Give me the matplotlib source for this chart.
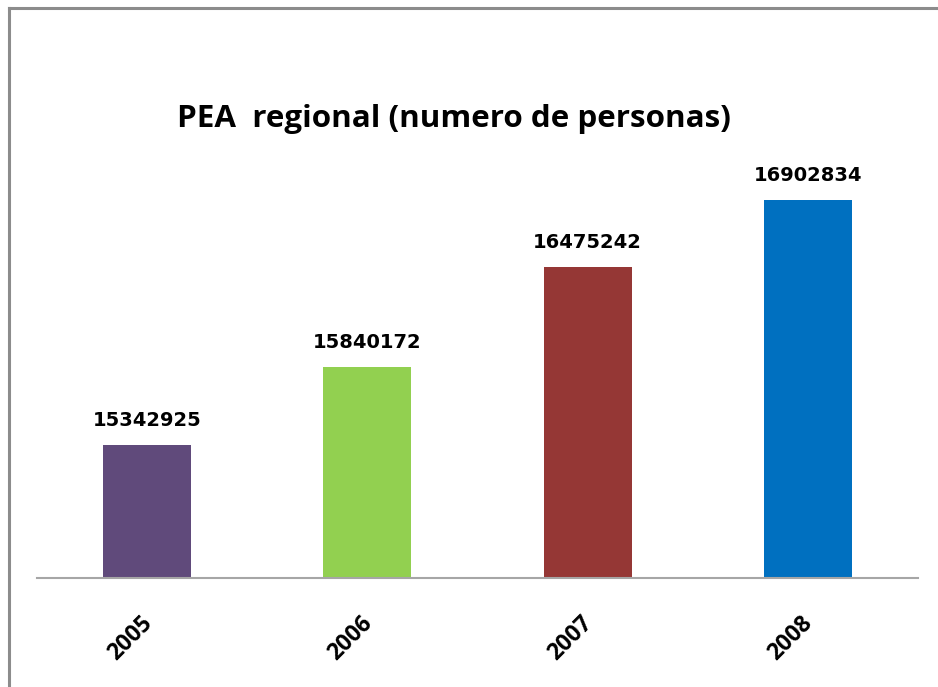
import matplotlib.pyplot as plt
from matplotlib.transforms import ScaledTranslation

years = ["2005", "2006", "2007", "2008"]
pea = [15342925, 15840172, 16475242, 16902834]
colors = ["#604A7B", "#92D050", "#953735", "#0070C0"]

plt.rcParams['font.family'] = ['Open Sans', 'DejaVu Sans']

fig = plt.figure(figsize=(9.38, 6.87), dpi=100)
W, H = 938, 687

# chart border (left and top visible)
fig.add_artist(plt.Line2D([9 / W, 9 / W], [0, 1 - 8 / H], color="#8c8c8c", lw=2.2))
fig.add_artist(plt.Line2D([9 / W, 1], [1 - 8 / H, 1 - 8 / H], color="#8c8c8c", lw=2.2))

ax = fig.add_axes([37 / W, (H - 578) / H, 881 / W, 393 / H])
x = range(len(years))
ax.bar(x, pea, width=0.4, color=colors)
ax.set_xlim(-0.5, 3.5)
ax.set_ylim(14500000, 17000000)

for s in ["top", "right", "left"]:
    ax.spines[s].set_visible(False)
ax.spines["bottom"].set_color("#a6a6a6")
ax.spines["bottom"].set_linewidth(1.5)
ax.set_yticks([])
ax.set_xticks(list(x))
ax.set_xticklabels(years, rotation=45, ha="right", rotation_mode="anchor",
                   fontsize=16.5, fontweight="bold")
ax.tick_params(axis="x", length=0, pad=24)
shift = ScaledTranslation(-7 / 100, 0, fig.dpi_scale_trans)
for lbl in ax.get_xticklabels():
    lbl.set_transform(lbl.get_transform() + shift)

for i, v in enumerate(pea):
    ax.annotate(str(v), (i, v), xytext=(0, 11), textcoords="offset points",
                ha="center", va="bottom", fontsize=14, fontweight="bold",
                family="DejaVu Sans")

fig.text(454 / W, 1 - 119 / H, "PEA  regional (numero de personas)",
         ha="center", va="center", fontsize=22.6, fontweight="bold")

fig.savefig("out.png", dpi=100, facecolor="white")
